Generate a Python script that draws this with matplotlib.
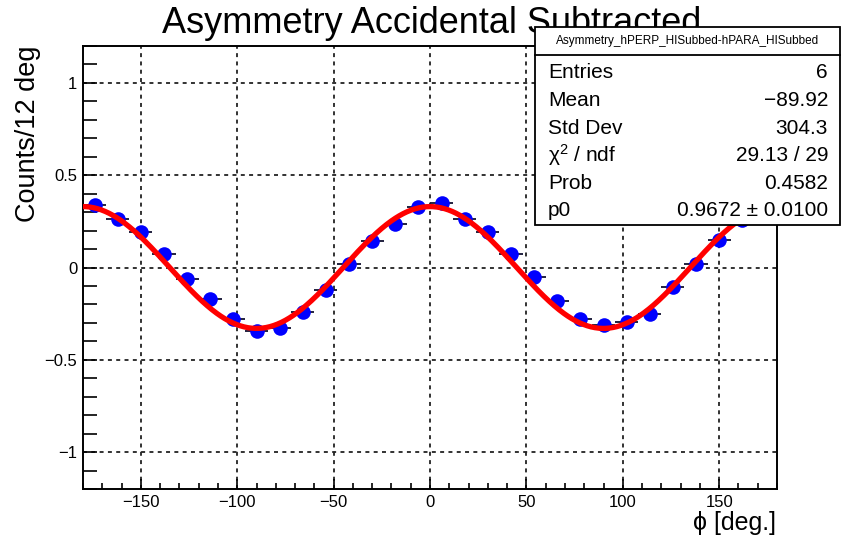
import numpy as np
import matplotlib
matplotlib.use("Agg")
import matplotlib.pyplot as plt
from matplotlib.patches import Rectangle
from matplotlib.ticker import MultipleLocator

plt.rcParams['font.family'] = ['Liberation Sans', 'DejaVu Sans']
plt.rcParams['mathtext.fontset'] = 'custom'
plt.rcParams['mathtext.rm'] = 'Liberation Sans'
plt.rcParams['mathtext.it'] = 'Liberation Sans:italic'

# Binned asymmetry (12 deg bins) and fitted cos(2phi) amplitude
bin_width = 12.0
phi = np.arange(-174, 180, 12)
asym = [0.339, 0.262, 0.191, 0.072, -0.063, -0.169, -0.279, -0.343,
        -0.328, -0.241, -0.121, 0.020, 0.141, 0.235, 0.326, 0.348,
        0.262, 0.191, 0.074, -0.054, -0.184, -0.279, -0.310, -0.295,
        -0.252, -0.106, 0.020, 0.150, 0.255, 0.330]
fit_amp = 0.33

title = "Asymmetry Accidental Subtracted"
stats_name = "Asymmetry_hPERP_HISubbed-hPARA_HISubbed"
stats_labels = ["Entries", "Mean", "Std Dev", "\u03c7$^{2}$ / ndf", "Prob", "p0"]
stats_values = ["6", "\u221289.92", "304.3", "29.13 / 29", "0.4582",
                "0.9672 \u00b1 0.0100"]

W, H = 843, 540
fig = plt.figure(figsize=(W / 100, H / 100), dpi=100)
ax = fig.add_axes([83 / W, 1 - 489 / H, (777 - 83) / W, (489 - 46) / H])

ax.set_xlim(-180, 180)
ax.set_ylim(-1.2, 1.2)

# grid
ax.grid(True, which='major', color='#222222', linestyle=(0, (2.2, 2.4)),
        linewidth=1.3)
ax.set_axisbelow(True)

# data points with bin-width error bars
ax.errorbar(phi, asym, xerr=bin_width / 2, fmt='none', ecolor='#101030',
            elinewidth=1.3, zorder=3)
ax.plot(phi, asym, 'o', color='#0000ff', markersize=10.5, markeredgewidth=0,
        zorder=4)

# fit curve
xf = np.linspace(-180, 180, 721)
ax.plot(xf, fit_amp * np.cos(np.radians(2 * xf)), color='#ff0000',
        linewidth=3.8, zorder=5, solid_capstyle='butt')

# axes styling
for s in ax.spines.values():
    s.set_linewidth(1.4)
    s.set_color('black')
ax.xaxis.set_major_locator(MultipleLocator(50))
ax.xaxis.set_minor_locator(MultipleLocator(10))
ax.yaxis.set_major_locator(MultipleLocator(0.5))
ax.yaxis.set_minor_locator(MultipleLocator(0.1))
ax.tick_params(axis='x', which='major', direction='in', length=7.2, width=1.2,
               labelsize=12, pad=4, top=False)
ax.tick_params(axis='x', which='minor', direction='in', length=4.3, width=1.2,
               top=False)
ax.tick_params(axis='y', which='both', direction='in', length=10, width=1.2,
               labelsize=12, pad=4, right=False)
ax.set_yticks([-1, -0.5, 0, 0.5, 1])
ax.set_yticklabels(['\u22121', '\u22120.5', '0', '0.5', '1'])

# axis titles
fig.text(28 / W, 1 - 45 / H, "Counts/12 deg", rotation=90, ha='center',
         va='top', fontsize=19.5)
fig.text(776 / W, 1 - 530 / H, "\u03d5 [deg.]", ha='right', va='baseline',
         fontsize=18)

# title
fig.text(432 / W, 1 - 33 / H, title, ha='center', va='baseline', fontsize=26,
         zorder=1)

# statistics box
bx0, bx1, by0, by1 = 535, 840, 27, 225
fig.patches.append(Rectangle((bx0 / W, 1 - by1 / H), (bx1 - bx0) / W,
                             (by1 - by0) / H, transform=fig.transFigure,
                             facecolor='white', edgecolor='black',
                             linewidth=1.3, zorder=10))
fig.lines.append(plt.Line2D([bx0 / W, bx1 / W], [1 - 55 / H, 1 - 55 / H],
                            transform=fig.transFigure, color='black',
                            linewidth=1.3, zorder=11))
fig.text((bx0 + bx1) / 2 / W, 1 - 44 / H, stats_name, ha='center',
         va='baseline', fontsize=8.5, zorder=12)
for i, (lab, val) in enumerate(zip(stats_labels, stats_values)):
    yb = 1 - (78.5 + 27.6 * i) / H
    fig.text(548 / W, yb, lab, ha='left', va='baseline', fontsize=15,
             zorder=12)
    fig.text(828 / W, yb, val, ha='right', va='baseline', fontsize=15,
             zorder=12)

fig.savefig("out.png", dpi=100)
